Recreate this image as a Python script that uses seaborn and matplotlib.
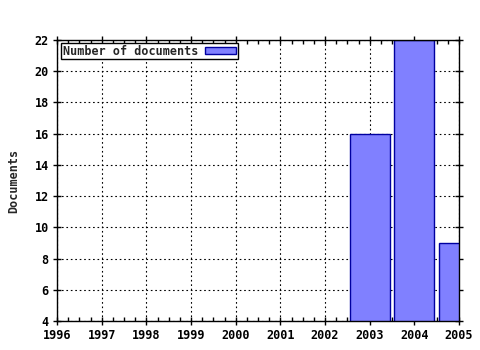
import matplotlib
matplotlib.use("Agg")
import matplotlib.pyplot as plt
import seaborn as sns
import pandas as pd
import numpy as np
from matplotlib.ticker import MultipleLocator

years = [2003, 2004, 2005]
documents = [16, 22, 9]
xticks = list(range(1996, 2006))
yticks = list(range(4, 23, 2))
series_label = "Number of documents"

sns.set_style("white")
plt.rcParams['font.family'] = ['DejaVu Sans Mono']
plt.rcParams['font.weight'] = 'bold'

df = pd.DataFrame({"year": years, "docs": documents})

fig = plt.figure(figsize=(4.8, 3.5), dpi=100)
ax = fig.add_axes([57/480, 29/350, 402/480, 281/350])

sns.barplot(data=df, x="year", y="docs", native_scale=True, width=0.9,
            color="#8080ff", saturation=1, edgecolor="#0000a0", linewidth=1.0,
            label=series_label, ax=ax, zorder=3)

ax.set_xlim(1996, 2005)
ax.set_ylim(4, 22)
ax.set_xticks(xticks)
ax.set_xticklabels([str(y) for y in xticks])
ax.set_yticks(yticks)
ax.xaxis.set_minor_locator(MultipleLocator(0.25))
ax.grid(True, which='major', color='black', linestyle=(0, (1.5, 2.5)), linewidth=0.8, zorder=0)
ax.set_axisbelow(True)

for s in ax.spines.values():
    s.set_color('black')
    s.set_linewidth(1)
    s.set_zorder(5)

ax.tick_params(which='major', direction='inout', length=6, width=1, colors='black',
               labelsize=8.5, top=True, right=True, bottom=True, left=True, pad=3)
ax.tick_params(which='minor', direction='in', length=3, width=1, colors='black',
               top=True, bottom=True)
for lab in ax.get_xticklabels() + ax.get_yticklabels():
    lab.set_fontweight('bold')

ax.set_xlabel("")
ax.set_ylabel("Documents", fontsize=8.5, fontweight='bold', labelpad=10)

leg = ax.legend(loc='upper left', bbox_to_anchor=(0.01, 0.99), markerfirst=False,
                frameon=True, fancybox=False, framealpha=1, edgecolor='black',
                prop={'size': 8.5, 'weight': 'bold'}, borderpad=0.15,
                handlelength=2.6, handleheight=0.5, handletextpad=0.6,
                borderaxespad=0)
leg.get_frame().set_linewidth(1)
leg.set_zorder(10)

fig.savefig("out.png", dpi=100)
